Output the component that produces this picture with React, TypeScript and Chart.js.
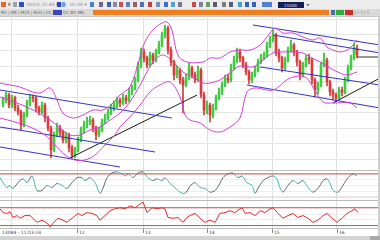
import React, { useEffect, useRef } from "react";
import { Chart, registerables } from "chart.js";
Chart.register(...registerables);

// ---- candle data (price units, bar index 1..119) ----
const openP = [66,70,75,65,72,62,58,45,55,67,
  73,72,62,58,65,52,42,20,35,42,
  38,30,35,22,15,20,30,40,45,48,
  50,42,35,40,48,52,58,62,65,70,
  67,72,70,78,82,90,105,118,112,105,
  115,110,118,125,135,142,120,108,95,100,
  90,85,92,102,95,90,100,75,60,65,
  55,62,72,78,85,92,90,102,110,118,
  112,105,98,90,95,100,108,112,115,125,
  130,135,118,112,102,110,120,125,118,108,
  95,105,112,110,90,80,85,105,110,88,
  78,75,72,80,78,90,102,112,122];
const highP = [73,78,77,75,74,65,60,58,70,76,
  75,74,64,68,67,54,44,38,47,45,
  40,38,37,25,23,33,43,49,53,54,
  52,44,43,51,56,61,66,69,73,72,
  76,75,82,85,93,108,122,121,114,118,
  117,121,129,138,145,144,123,110,104,102,
  93,96,107,104,98,104,102,78,69,67,
  66,75,82,88,95,96,106,114,122,121,
  114,108,100,98,104,111,116,118,128,134,
  140,137,121,114,113,123,130,127,120,110,
  108,115,116,112,92,88,108,117,112,90,
  81,77,83,83,93,105,115,127,125];
const lowP = [63,67,62,62,59,55,40,43,53,64,
  68,58,55,56,48,39,12,18,33,34,
  27,27,18,12,12,18,28,37,42,45,
  38,30,33,38,46,50,55,59,62,63,
  65,66,68,75,80,88,102,108,102,103,
  106,108,116,123,132,116,104,90,92,86,
  57,83,90,92,87,88,72,55,56,48,
  52,60,70,75,83,87,88,100,107,108,
  102,95,86,87,93,98,106,110,113,122,
  128,114,108,98,100,108,118,114,104,90,
  93,103,106,86,73,76,83,103,84,74,
  70,68,70,74,76,88,100,110,112];
const closeP = [70,75,65,72,62,58,45,55,67,73,
  72,62,58,65,52,42,20,35,42,38,
  30,35,22,15,20,30,40,45,48,50,
  42,35,40,48,52,58,62,65,70,67,
  72,70,78,82,90,105,118,112,105,115,
  110,118,125,135,142,120,108,95,100,90,
  85,92,102,95,90,100,75,60,65,55,
  62,72,78,85,92,90,102,110,118,112,
  105,98,90,95,100,108,112,115,125,130,
  135,118,112,102,110,120,125,118,108,95,
  105,112,110,90,80,85,105,110,88,78,
  75,72,80,78,90,102,112,122,115];

// ---- Bollinger bands (bar index, price) ----
const upperBand = [[0,87],[3.3,85],[6.7,83],[10,79],[13.3,77],[16.7,82],[19,70],[21,57],[24.3,52],[27.7,55],[31,60],[34.3,60],[37.7,67],[40,75],[43.3,83],[46.7,113],[48.3,128],[51,140],[54,147],[55.7,148],[57.3,140],[59.3,115],[62.3,108],[67.7,108],[70,112],[73.3,112],[76.7,118],[80,120],[83.3,120],[86.7,125],[90,137],[91.7,142],[94.3,137],[97.7,137],[101,133],[104.3,130],[106.7,132],[109,123],[111,120],[113.3,118],[115.7,120],[117.7,125],[119,130]];
const middleBand = [[0,73],[5.7,67],[11,60],[16.7,50],[20,42],[23.3,35],[26.7,35],[30,40],[33.3,43],[36.7,50],[40,57],[43.3,68],[46.7,85],[51,108],[54.3,115],[57.7,108],[61,98],[64.3,93],[67.7,87],[70,87],[73.3,90],[76.7,97],[80,104],[84.3,103],[87.7,110],[91,117],[94.3,118],[97.7,118],[101,117],[103.3,113],[106.7,108],[110,102],[113.3,97],[115.7,95],[119,98]];
const lowerBand = [[0,52],[5,48],[10,43],[15,35],[18.3,25],[21.7,15],[25,10],[28.3,10],[31.7,15],[35,25],[38.3,35],[40,43],[43.3,53],[46.7,65],[50,78],[53.3,85],[56.7,88],[60,73],[61.7,55],[63.3,50],[66.7,47],[70,40],[73.3,38],[76.7,43],[80,52],[82.3,78],[85,82],[91,80],[96.7,92],[101.7,93],[104.3,83],[107.7,68],[111,67],[116.7,67],[119,62]];

// ---- drawn channel / trend lines ----
const channelLines = [
  [[0,80],[57.3,52]],
  [[0,43],[51.7,18]],
  [[0,23],[40,3]],
  [[84.3,145],[126.7,125]],
  [[91,135],[126.7,117]],
  [[86.7,103],[126.7,85]],
  [[82.3,85],[126.7,62]],
];
const trendLines = [
  [[23.3,12],[65.7,75]],
  [[111,67],[126.7,92]],
];
const lastPriceLine = [[119,113],[126,113]];

// ---- oscillators ----
const osc1 = [[0,77],[1,60],[2.3,43],[3.3,50],[4.3,40],[6,60],[7.7,73],[9,60],[10.7,83],[12.3,33],[14,33],[15.7,50],[17.3,43],[19,57],[20.7,50],[22.3,40],[24,60],[25.7,77],[27.3,77],[28.3,67],[30,77],[31.7,60],[33.3,23],[34.3,40],[35.7,77],[37.3,93],[39,97],[40.7,90],[41.7,83],[42.7,90],[44.3,77],[46,93],[47.7,97],[49.3,77],[51,67],[52.3,73],[54,67],[55,77],[56.7,57],[58.3,43],[60,27],[61.7,23],[63.3,47],[65,60],[66.7,43],[68.3,40],[70,27],[71.7,33],[73.3,57],[74.3,77],[76,90],[77.7,93],[79.3,77],[80.7,83],[82.3,60],[84,50],[85,23],[86,40],[87.7,67],[89.3,77],[91,83],[92.3,73],[93.3,43],[94.3,27],[96,50],[97.7,67],[99.3,57],[101,67],[102.7,43],[104.3,27],[106,40],[107.7,67],[109,73],[110,57],[111,33],[112.7,27],[114.3,50],[116,77],[117.7,90],[119,83]];
const osc1Levels = [90, 10];
const osc2 = [[0,71],[1,57],[2.3,54],[3.3,61],[4.3,39],[5.7,46],[6.7,36],[8.3,46],[10,46],[11,36],[12.3,21],[14,29],[15.7,18],[16.7,4],[17.7,18],[19.3,36],[21,29],[22.3,21],[24,36],[26,54],[27.3,46],[29,57],[30.7,54],[32.3,46],[33.3,29],[35,46],[36.7,64],[38.3,71],[40,75],[41.7,71],[43.3,82],[45,75],[46.7,89],[47.7,96],[49,57],[50.7,75],[52.3,71],[54,75],[55,71],[56,39],[57.7,36],[59.3,39],[61,21],[62.3,39],[63.3,46],[65,54],[66.7,36],[68.3,21],[70,29],[71.7,21],[73.3,54],[75,57],[76.7,64],[78.3,57],[80,71],[80.7,75],[81.7,54],[83.3,57],[85,46],[86.7,64],[88.3,57],[90,71],[91,75],[92.7,54],[94.3,36],[96,46],[97.7,54],[99.3,39],[101,46],[102.7,36],[104.3,21],[106,29],[107.7,46],[109,54],[110.7,36],[112.3,21],[114,36],[115.7,54],[117.3,64],[118.3,71],[119.3,57]];
const osc2Levels = [75, 9];

// ---- axis ticks ----
const timeTicks = [3.67, 25.67, 47.67, 69, 90.67, 112.33];
const timeLabels = ["", "12", "13", "14", "15", "16"];
const priceGrid = [150.5, 135, 119.5, 104, 88.5, 73, 57.5, 42, 26.5, 11];

const GREEN = "#3ccf3c";
const RED = "#e0383a";
const MAGENTA = "#d23fd2";
const BLUE = "#3434c8";

function pts(p: number[][]) {
  return p.map(([x, y]) => ({ x, y }));
}
function line(p: number[][], color: string, extra: any = {}) {
  return { type: "line", data: pts(p), borderColor: color, borderWidth: 1, pointRadius: 0, fill: false, tension: 0, order: 0, ...extra };
}
function scales(yMin: number, yMax: number, yTicks: number[], yGridColor: string) {
  return {
    x: {
      type: "linear", min: 0, max: 126, offset: false,
      ticks: { display: false },
      grid: { color: "#e0e0e0", drawTicks: false, offset: false },
      border: { display: false },
      afterBuildTicks: (a: any) => { a.ticks = timeTicks.map((v) => ({ value: v })); },
    },
    y: {
      type: "linear", min: yMin, max: yMax,
      ticks: { display: false },
      grid: { color: yGridColor, drawTicks: false },
      border: { display: false },
      afterBuildTicks: (a: any) => { a.ticks = yTicks.map((v) => ({ value: v })); },
    },
  };
}
const baseOptions = {
  responsive: false,
  maintainAspectRatio: false,
  animation: false,
  events: [],
  layout: { padding: { left: 0, right: 2, top: 0, bottom: 0 } },
  plugins: { legend: { display: false }, tooltip: { enabled: false } },
};

export default function App() {
  const mainRef = useRef<HTMLCanvasElement>(null);
  const p1Ref = useRef<HTMLCanvasElement>(null);
  const p2Ref = useRef<HTMLCanvasElement>(null);

  useEffect(() => {
    const colors = closeP.map((c, k) => (c >= openP[k] ? GREEN : RED));
    const wickColors = closeP.map((c, k) => (c >= openP[k] ? "#35b535" : "#c8403a"));
    const main = new Chart(mainRef.current as HTMLCanvasElement, {
      type: "line",
      data: {
        datasets: [
          { type: "bar", data: closeP.map((c, k) => ({ x: k + 1, y: [lowP[k], highP[k]] })), backgroundColor: wickColors, borderWidth: 0, barThickness: 1, grouped: false, order: 3 } as any,
          { type: "bar", data: closeP.map((c, k) => ({ x: k + 1, y: [openP[k], c] })), backgroundColor: colors, borderWidth: 0, barThickness: 2, grouped: false, order: 2 } as any,
          line(upperBand, MAGENTA, { tension: 0.35 }),
          line(middleBand, MAGENTA, { tension: 0.35 }),
          line(lowerBand, MAGENTA, { tension: 0.35 }),
          ...channelLines.map((l) => line(l, BLUE)),
          ...trendLines.map((l) => line(l, "#1a1a1a")),
          line(lastPriceLine, "#303030"),
        ],
      },
      options: { ...baseOptions, scales: scales(0, 154, priceGrid, "#e6e6e6") } as any,
    });
    const p1 = new Chart(p1Ref.current as HTMLCanvasElement, {
      type: "line",
      data: {
        datasets: [
          line([[0, osc1Levels[0]], [126, osc1Levels[0]]], "#c04848"),
          line([[0, osc1Levels[1]], [126, osc1Levels[1]]], "#d8c8c8"),
          line(osc1, "#5a6868", {
            tension: 0.3,
            segment: { borderColor: (ctx: any) => (ctx.p1.parsed.y >= ctx.p0.parsed.y ? "#5a6868" : "#3cb8b8") },
          }),
        ],
      },
      options: { ...baseOptions, scales: scales(0, 100, [30, 50, 70], "#eeeeee") } as any,
    });
    const p2 = new Chart(p2Ref.current as HTMLCanvasElement, {
      type: "line",
      data: {
        datasets: [
          line([[0, osc2Levels[0]], [126, osc2Levels[0]]], "#c04848"),
          line([[0, osc2Levels[1]], [126, osc2Levels[1]]], "#3a9a3a"),
          line(osc2, "#e02a2a"),
        ],
      },
      options: { ...baseOptions, scales: scales(0, 100, [30, 50], "#eeeeee") } as any,
    });
    return () => { main.destroy(); p1.destroy(); p2.destroy(); };
  }, []);

  const tiny: React.CSSProperties = { position: "absolute", fontSize: 4.5, lineHeight: "5px", color: "#555", whiteSpace: "nowrap" };
  const box = (left: number, top: number, w: number, h: number, bg: string): React.CSSProperties => ({ position: "absolute", left, top, width: w, height: h, background: bg });

  return (
    <div style={{ position: "fixed", left: 0, top: 0, width: 380, height: 240, overflow: "hidden", background: "#ffffff", fontFamily: "'DejaVu Sans', sans-serif" }}>
      {/* toolbar */}
      <div style={box(0, 0, 380, 9, "#ececec")} />
      <div style={box(1, 2, 5, 5, "#e06a2a")} />
      <div style={{ ...tiny, left: 8, top: 2, color: "#333" }}>K</div>
      <div style={box(13, 2, 4, 5, "#9aa0b0")} />
      <div style={box(19, 2, 5, 5, "#3050c0")} />
      <div style={{ ...tiny, left: 27, top: 2, color: "#8890a0" }}>GOLD.25.48 M1 ▾</div>
      <div style={box(57, 2, 4, 5, "#2a44b8")} />
      <div style={box(62, 2, 3, 5, "#70a0e0")} />
      <div style={{ ...tiny, left: 70, top: 2, color: "#8890a0" }}>02:00 ▾</div>
      <div style={box(90, 2, 4, 5, "#4a80c8")} />
      <div style={box(99, 2, 4, 5, "#6a6a8a")} />
      <div style={box(107, 2, 4, 5, "#3a60b0")} />
      <div style={box(113, 2, 4, 5, "#8a8a9a")} />
      <div style={box(119, 2, 4, 5, "#d05050")} />
      <div style={box(126, 2, 4, 5, "#6080c0")} />
      <div style={box(133, 2, 4, 5, "#a06060")} />
      <div style={box(140, 2, 4, 5, "#5070b0")} />
      <div style={box(148, 2, 4, 5, "#c04040")} />
      <div style={box(156, 2, 4, 5, "#7090c0")} />
      <div style={box(164, 2, 4, 5, "#3a70d0")} />
      <div style={box(171, 2, 4, 5, "#50a0d0")} />
      <div style={box(178, 2, 4, 5, "#7a7a8a")} />
      <div style={box(192, 2, 4, 5, "#c05050")} />
      <div style={box(199, 2, 4, 5, "#8080a0")} />
      <div style={box(206, 2, 4, 5, "#60a060")} />
      <div style={box(213, 2, 4, 5, "#5a5a6a")} />
      <div style={box(222, 2, 4, 5, "#7a7a8a")} />
      <div style={box(229, 2, 4, 5, "#506080")} />
      <div style={box(238, 2, 4, 5, "#40a0d0")} />
      <div style={box(245, 2, 4, 5, "#3060c0")} />
      <div style={box(252, 2, 4, 5, "#3060c0")} />
      <div style={box(262, 2, 10, 5, "#5080d0")} />
      <div style={box(278, 2, 26, 6, "#14205a")} />
      <div style={{ ...tiny, left: 284, top: 2.5, color: "#e8e8ff", fontSize: 4 }}>11000</div>
      <div style={{ ...tiny, left: 307, top: 2, color: "#333" }}>▸</div>
      {/* tab row */}
      <div style={box(0, 9, 380, 7, "#d9d9d9")} />
      <div style={{ ...tiny, left: 1, top: 10, color: "#666", fontSize: 4 }}>M1 | M5 | M15 | M30 | H1 | H4</div>
      <div style={box(53, 10, 9, 5, "#3a44c0")} />
      <div style={{ ...tiny, left: 63, top: 10, color: "#666", fontSize: 4 }}>D1 W1 MN</div>
      <div style={box(93, 10, 236, 5, "#f07e1e")} />
      <div style={box(331, 10, 4, 5, "#4c6ca0")} />
      <div style={box(336, 10, 8, 5, "#2fae3a")} />
      <div style={box(345, 10, 8, 5, "#d02c2c")} />
      <div style={{ ...tiny, left: 354, top: 10, color: "#777", fontSize: 4 }}>1 / 1 / 1</div>
      <div style={box(0, 16, 380, 1, "#c8c8c8")} />

      <canvas ref={mainRef} width={380} height={154} style={{ position: "absolute", left: 0, top: 16 }} />
      <div style={box(0, 170, 380, 1, "#bdbdbd")} />
      <canvas ref={p1Ref} width={380} height={29} style={{ position: "absolute", left: 0, top: 171 }} />
      <div style={box(0, 200, 380, 1, "#bdbdbd")} />
      <canvas ref={p2Ref} width={380} height={27} style={{ position: "absolute", left: 0, top: 201 }} />
      <div style={box(0, 228, 380, 1, "#bdbdbd")} />
      {/* time axis */}
      <div style={{ ...tiny, left: 2, top: 230, color: "#444" }}>13084 - 11:03:24</div>
      {timeTicks.map((t, k) => (k === 0 ? null : (
        <React.Fragment key={k}>
          <div style={box(Math.round(t * 3), 229, 1, 4, "#888")} />
          <div style={{ ...tiny, left: Math.round(t * 3) + 2, top: 230, color: "#444" }}>{timeLabels[k]}</div>
        </React.Fragment>
      )))}
      <div style={box(0, 236, 380, 4, "#d4d4d4")} />
      <div style={box(370, 236, 10, 4, "#a8a8a8")} />
      <div style={box(378, 16, 2, 220, "#d0d0d0")} />
    </div>
  );
}
